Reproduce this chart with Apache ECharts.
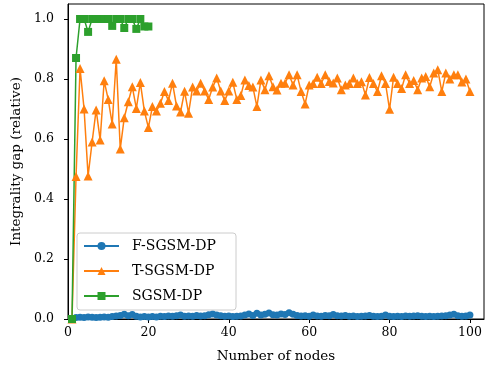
<!DOCTYPE html>
<html>
<head>
<meta charset="utf-8">
<script src="https://cdn.jsdelivr.net/npm/echarts@6/dist/echarts.min.js"></script>
<style>
  html, body { margin: 0; padding: 0; background: #fff; }
  #chart { width: 486px; height: 370px; }
</style>
</head>
<body>
<div id="chart"></div>
<script>
// number of nodes on x, relative integrality gap on y
const fValues = [
  0, 0.005, 0.006, 0.005, 0.007, 0.006, 0.005, 0.006, 0.007, 0.006,
  0.008, 0.01, 0.012, 0.016, 0.011, 0.015, 0.009, 0.007, 0.008, 0.007,
  0.008, 0.007, 0.009, 0.008, 0.01, 0.009, 0.011, 0.013, 0.009, 0.01,
  0.009, 0.012, 0.01, 0.011, 0.014, 0.017, 0.013, 0.011, 0.009, 0.01,
  0.008, 0.009, 0.01, 0.013, 0.017, 0.012, 0.019, 0.013, 0.016, 0.02,
  0.014, 0.013, 0.017, 0.015, 0.021, 0.016, 0.012, 0.01, 0.011, 0.009,
  0.013, 0.01, 0.009, 0.012, 0.011, 0.015, 0.011, 0.01, 0.012, 0.009,
  0.01, 0.008, 0.009, 0.01, 0.012, 0.009, 0.008, 0.009, 0.013, 0.009,
  0.008, 0.009, 0.008, 0.01, 0.009, 0.01, 0.011, 0.009, 0.008, 0.009,
  0.008, 0.009, 0.01, 0.011, 0.013, 0.016, 0.011, 0.009, 0.01, 0.013
];
const tValues = [
  0, 0.475, 0.835, 0.70, 0.477, 0.59, 0.697, 0.597, 0.794, 0.732,
  0.65, 0.866, 0.567, 0.671, 0.724, 0.774, 0.702, 0.788, 0.693, 0.638,
  0.708, 0.693, 0.719, 0.758, 0.728, 0.786, 0.71, 0.69, 0.759, 0.686,
  0.773, 0.76, 0.786, 0.76, 0.732, 0.773, 0.803, 0.76, 0.728, 0.76,
  0.789, 0.732, 0.745, 0.797, 0.778, 0.773, 0.708, 0.797, 0.764, 0.811,
  0.774, 0.763, 0.786, 0.786, 0.814, 0.78, 0.814, 0.758, 0.717, 0.78,
  0.785, 0.806, 0.785, 0.814, 0.792, 0.787, 0.803, 0.764, 0.78, 0.785,
  0.803, 0.785, 0.791, 0.747, 0.805, 0.785, 0.758, 0.811, 0.785, 0.699,
  0.806, 0.785, 0.768, 0.814, 0.785, 0.795, 0.764, 0.803, 0.808, 0.774,
  0.82, 0.831, 0.758, 0.82, 0.80, 0.814, 0.814, 0.79, 0.80, 0.758
];
const sValues = [
  0, 0.87, 1.0, 1.0, 0.957, 1.0, 1.0, 1.0, 1.0, 1.0,
  0.977, 1.0, 1.0, 0.97, 1.0, 1.0, 0.967, 1.0, 0.975, 0.975
];
const seriesNames = ['F-SGSM-DP', 'T-SGSM-DP', 'SGSM-DP'];
const xTicks = [0, 20, 40, 60, 80, 100];
const yTicks = [0, 0.2, 0.4, 0.6, 0.8, 1.0];

const FONT = 'DejaVu Serif';
const toPairs = vals => vals.map((v, i) => [i + 1, v]);

const chart = echarts.init(document.getElementById('chart'));
chart.setOption({
  animation: false,
  textStyle: { fontFamily: FONT, color: '#000' },
  grid: {
    left: 68, right: 2, top: 4, bottom: 51,
    show: true, borderColor: '#000', borderWidth: 1, backgroundColor: 'transparent'
  },
  xAxis: {
    type: 'value', min: 0, max: 103.5,
    name: 'Number of nodes', nameLocation: 'middle', nameGap: 30,
    nameTextStyle: { fontFamily: FONT, fontSize: 13.5, color: '#000' },
    axisLine: { onZero: false, lineStyle: { color: '#000', width: 1 } },
    axisTick: { customValues: xTicks, length: 4, lineStyle: { color: '#000' } },
    axisLabel: { customValues: xTicks, margin: 7, fontFamily: FONT, fontSize: 12.5, color: '#000' },
    splitLine: { show: false }
  },
  yAxis: {
    type: 'value', min: 0, max: 1.05,
    name: 'Integrality gap (relative)', nameLocation: 'middle', nameGap: 45, nameRotate: 90,
    nameTextStyle: { fontFamily: FONT, fontSize: 13.5, color: '#000' },
    axisLine: { show: true, onZero: false, lineStyle: { color: '#000', width: 1 } },
    axisTick: { show: true, customValues: yTicks, length: 4, lineStyle: { color: '#000' } },
    axisLabel: {
      customValues: yTicks, margin: 14, fontFamily: FONT, fontSize: 12.5, color: '#000',
      formatter: v => v.toFixed(1)
    },
    splitLine: { show: false }
  },
  legend: {
    orient: 'vertical', left: 77, top: 233,
    padding: [5, 6, 6, 6], itemGap: 9,
    itemWidth: 35, itemHeight: 10,
    backgroundColor: 'rgba(255,255,255,0.8)', borderColor: '#cccccc', borderWidth: 1, borderRadius: 3,
    textStyle: { fontFamily: FONT, fontSize: 14, color: '#000', lineHeight: 16, width: 98, padding: [0, 0, 0, 8] },
    data: seriesNames
  },
  series: [
    {
      name: seriesNames[0], type: 'line', data: toPairs(fValues),
      symbol: 'circle', symbolSize: 7, showAllSymbol: true,
      lineStyle: { color: '#1f77b4', width: 1.5 }, itemStyle: { color: '#1f77b4' }
    },
    {
      name: seriesNames[1], type: 'line', data: toPairs(tValues),
      symbol: 'triangle', symbolSize: 9, showAllSymbol: true,
      lineStyle: { color: '#ff7f0e', width: 1.5 }, itemStyle: { color: '#ff7f0e' }
    },
    {
      name: seriesNames[2], type: 'line', data: toPairs(sValues),
      symbol: 'rect', symbolSize: 8, showAllSymbol: true,
      lineStyle: { color: '#2ca02c', width: 1.5 }, itemStyle: { color: '#2ca02c' }
    }
  ]
});
</script>
</body>
</html>
